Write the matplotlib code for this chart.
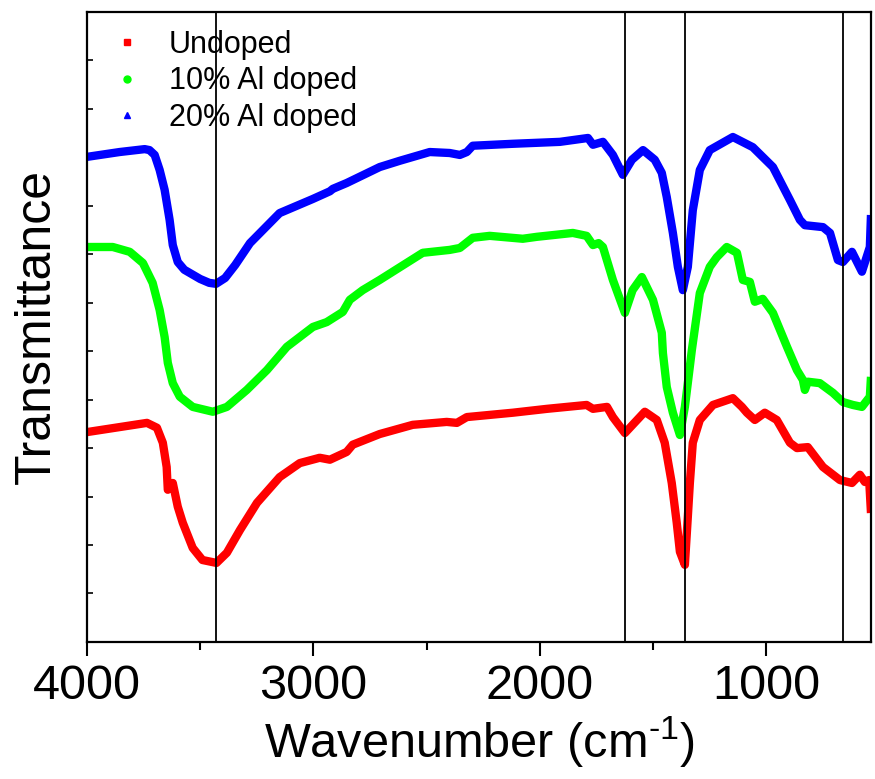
import matplotlib
matplotlib.use("Agg")
import matplotlib.pyplot as plt
from matplotlib.lines import Line2D
from matplotlib.ticker import MultipleLocator, NullFormatter

plt.rcParams['font.family'] = ['Liberation Sans', 'DejaVu Sans']
plt.rcParams['mathtext.fontset'] = 'custom'
plt.rcParams['mathtext.rm'] = 'Liberation Sans'
plt.rcParams['mathtext.it'] = 'Liberation Sans'

# wavenumber (cm-1) / transmittance (a.u., curves offset)
wn_undoped = [4000, 3735, 3691, 3665, 3648, 3643, 3621, 3599, 3577, 3533,
              3490, 3428, 3382, 3324, 3249, 3149, 3060, 2972, 2927, 2853,
              2826, 2707, 2561, 2411, 2366, 2322, 2119, 1968, 1793, 1765,
              1703, 1677, 1624, 1536, 1483, 1448, 1417, 1395, 1381, 1359,
              1346, 1337, 1324, 1293, 1235, 1147, 1107, 1085, 1050, 1006,
              953, 895, 864, 816, 749, 674, 621, 586, 564, 545, 537]
t_undoped = [43.3, 45.2, 44.2, 41.1, 36.1, 31.4, 32.8, 27.9, 24.6, 19.4,
             16.9, 16.3, 18.4, 23.1, 28.7, 34.0, 36.9, 38.0, 37.6, 39.2,
             40.7, 42.9, 44.8, 45.4, 45.2, 46.4, 47.3, 48.1, 48.9, 48.1,
             48.5, 46.4, 43.1, 47.5, 45.8, 41.1, 32.8, 24.6, 18.6, 15.9,
             25.8, 32.8, 41.1, 45.8, 48.9, 50.3, 48.5, 47.3, 45.8, 47.3,
             45.8, 41.1, 40.0, 40.2, 36.1, 33.4, 32.8, 34.5, 33.0, 33.4, 26.6]

wn_10 = [4000, 3886, 3811, 3753, 3710, 3679, 3657, 3643, 3621, 3590,
         3533, 3444, 3382, 3294, 3205, 3117, 3002, 2941, 2870, 2839,
         2782, 2707, 2517, 2398, 2353, 2296, 2221, 2075, 2013, 1854,
         1793, 1765, 1740, 1721, 1677, 1624, 1590, 1549, 1500, 1461,
         1456, 1439, 1412, 1381, 1359, 1328, 1293, 1249, 1218, 1174,
         1129, 1103, 1072, 1050, 1015, 970, 908, 864, 838, 829,
         816, 763, 705, 661, 617, 577, 542, 537]
t_10 = [81.5, 81.5, 80.5, 78.2, 74.1, 68.5, 62.9, 57.6, 53.4, 50.6,
        48.5, 47.5, 48.5, 52.0, 56.1, 60.9, 65.0, 66.0, 68.1, 70.6,
        72.6, 74.7, 80.3, 80.9, 81.3, 83.4, 83.8, 83.2, 83.6, 84.4,
        83.8, 81.9, 82.3, 81.5, 74.7, 67.9, 72.6, 75.3, 70.6, 63.8,
        59.6, 52.6, 47.3, 42.7, 48.5, 60.3, 72.0, 77.4, 79.4, 81.5,
        80.3, 74.7, 74.3, 70.2, 70.8, 67.9, 60.9, 56.1, 54.1, 52.0,
        53.7, 53.4, 51.4, 49.5, 48.9, 48.5, 50.6, 54.7]

wn_20 = [4000, 3856, 3745, 3724, 3701, 3679, 3657, 3635, 3621, 3599,
         3570, 3500, 3460, 3430, 3390, 3345, 3280, 3149, 3003, 2927,
         2914, 2853, 2707, 2618, 2486, 2398, 2353, 2322, 2296, 2119,
         1911, 1787, 1765, 1721, 1677, 1633, 1593, 1544, 1492, 1461,
         1439, 1412, 1390, 1368, 1346, 1324, 1293, 1249, 1147, 1059,
         970, 895, 851, 829, 749, 718, 683, 661, 621, 577, 542, 537]
t_20 = [100.1, 101.1, 101.7, 101.5, 100.5, 97.4, 93.3, 87.1, 81.9, 78.4,
        76.8, 74.9, 74.1, 73.9, 75.1, 77.8, 82.3, 88.5, 91.4, 93.0,
        93.5, 94.7, 98.0, 99.3, 101.1, 100.9, 100.5, 101.1, 102.4, 102.8,
        103.2, 104.0, 102.6, 103.2, 100.5, 96.4, 99.5, 101.5, 99.5, 96.8,
        91.8, 84.4, 77.4, 72.6, 77.4, 89.1, 97.4, 101.5, 104.2, 102.1,
        98.0, 91.2, 87.1, 86.0, 85.6, 84.4, 78.8, 78.4, 80.5, 76.4, 81.5, 88.1]

labels = ["Undoped", "10% Al doped", "20% Al doped"]
colors = ["#ff0000", "#00ff00", "#0000ff"]
markers = ["s", "o", "^"]
peak_lines = [3430, 1625, 1360, 660]

fig = plt.figure(figsize=(8.75, 7.79), dpi=100)
ax = fig.add_axes([0.0994, 0.176, 0.896, 0.8086])

series = [(wn_undoped, t_undoped), (wn_10, t_10), (wn_20, t_20)]
for (x, y), c in zip(series, colors):
    ax.plot(x, y, color=c, lw=6, solid_joinstyle='round', solid_capstyle='butt')

for p in peak_lines:
    ax.axvline(p, color='black', lw=1.3)

ax.set_xlim(4000, 537)
ax.set_ylim(0, 130)

ax.xaxis.set_major_locator(MultipleLocator(1000))
ax.xaxis.set_minor_locator(MultipleLocator(500))
ax.yaxis.set_major_locator(MultipleLocator(10))
ax.yaxis.set_major_formatter(NullFormatter())
ax.tick_params(axis='x', which='major', direction='out', length=10, width=1.5, labelsize=35, pad=6)
ax.tick_params(axis='x', which='minor', direction='out', length=6, width=1.5)
ax.tick_params(axis='y', which='major', direction='in', length=4, width=1.2)
for s in ax.spines.values():
    s.set_linewidth(1.6)

ax.set_xlabel('Wavenumber (cm$^{\u2010\\mathregular{1}}$)', fontsize=35, labelpad=4)
ax.set_ylabel('Transmittance', fontsize=36, labelpad=16)

handles = [Line2D([], [], ls='none', marker=m, color=c, markersize=5)
           for m, c in zip(markers, colors)]
ax.legend(handles, labels, loc='upper left', bbox_to_anchor=(0.032, 0.972),
          frameon=False, fontsize=22, borderpad=0, borderaxespad=0,
          handlelength=1.0, handletextpad=0.85, labelspacing=0.22)

fig.savefig('out.png', dpi=100)
